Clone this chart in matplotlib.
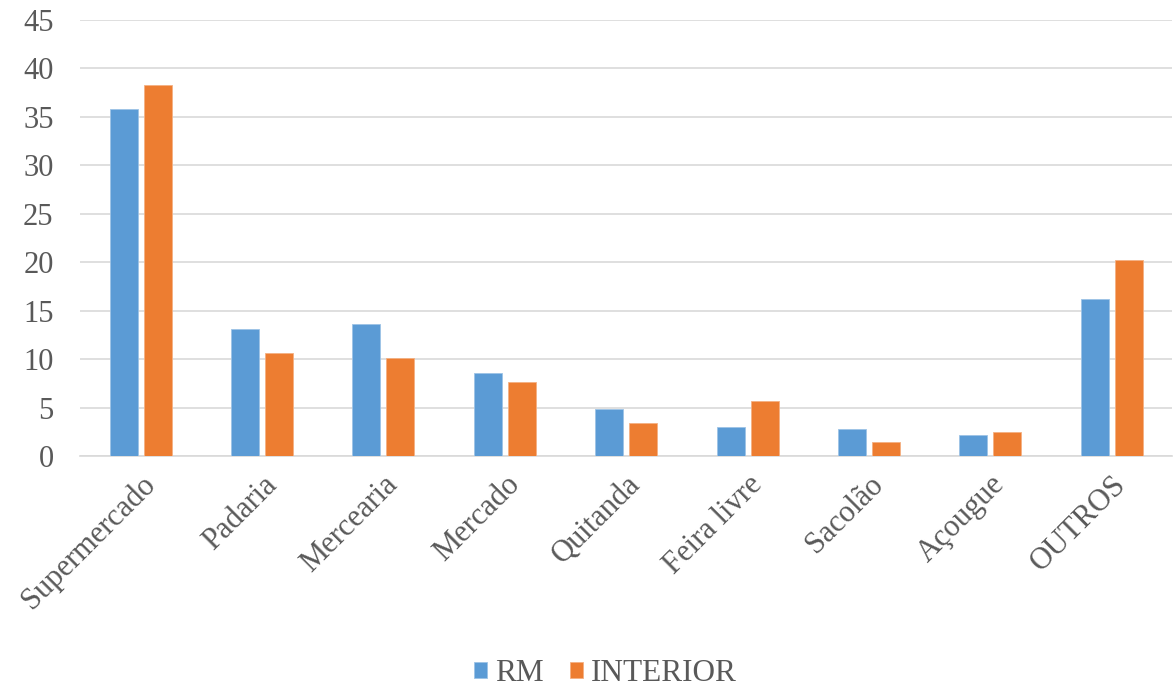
import matplotlib
matplotlib.use("Agg")
import matplotlib.pyplot as plt
import numpy as np

categories = ["Supermercado", "Padaria", "Mercearia", "Mercado", "Quitanda",
              "Feira livre", "Sacolão", "Açougue", "OUTROS"]
rm = [35.8, 13.1, 13.6, 8.6, 4.9, 3.0, 2.8, 2.2, 16.2]
interior = [38.3, 10.6, 10.1, 7.7, 3.4, 5.7, 1.5, 2.5, 20.2]
series_names = ["RM", "INTERIOR"]
y_ticks = [0, 5, 10, 15, 20, 25, 30, 35, 40, 45]

plt.rcParams['font.family'] = ['Liberation Serif', 'DejaVu Serif']
text_color = "#595959"

fig = plt.figure(figsize=(11.76, 6.86), dpi=100)
ax = fig.add_axes([0.068, 0.335, 0.929, 0.636])

x = np.arange(len(categories))
w = 0.23
off = 0.14
ax.bar(x - off, rm, width=w, color="#5B9BD5", edgecolor="#9DC3E6", linewidth=0.6,
       label=series_names[0], zorder=3)
ax.bar(x + off, interior, width=w, color="#ED7D31", edgecolor="#F4B183", linewidth=0.6,
       label=series_names[1], zorder=3)

ax.set_xlim(-0.5, len(categories) - 0.5)
ax.set_ylim(0, 45)
ax.set_yticks(y_ticks)
ax.yaxis.grid(True, color="#D9D9D9", linewidth=1.2, zorder=0)
ax.set_axisbelow(True)
for s in ["top", "right", "left"]:
    ax.spines[s].set_visible(False)
ax.spines["bottom"].set_color("#D9D9D9")
ax.spines["bottom"].set_linewidth(1.2)
ax.tick_params(axis="both", length=0, labelsize=22, colors=text_color)
ax.tick_params(axis="y", pad=19)
ax.set_xticks(x)
ax.set_xticklabels(categories, rotation=45, ha="right", rotation_mode="anchor")
ax.tick_params(axis="x", pad=10)

leg = fig.legend(loc="center", bbox_to_anchor=(0.515, 0.018), ncol=2, frameon=False,
                 fontsize=22.5, handlelength=0.42, handleheight=0.42, handletextpad=0.25,
                 columnspacing=0.85)
for t in leg.get_texts():
    t.set_color(text_color)

fig.savefig("out.png", dpi=100, facecolor="white")
